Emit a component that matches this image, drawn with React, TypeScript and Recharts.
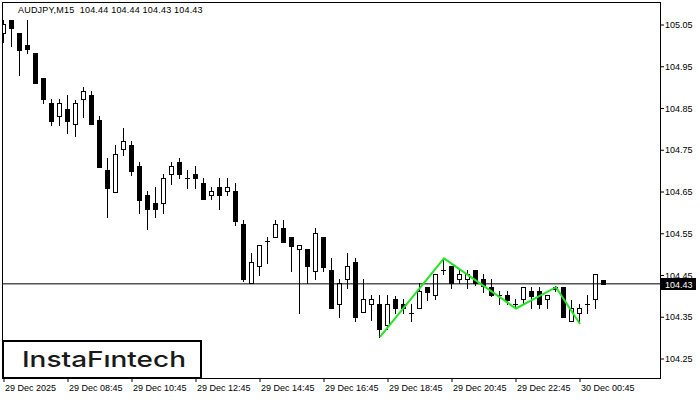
import React from 'react';
import { ComposedChart, Bar, Line, XAxis, YAxis, ReferenceLine, Label } from 'recharts';

const opens = [
  105.030, 105.062, 105.030, 105.002, 104.984, 104.922, 104.862, 104.832, 104.850, 104.813,
  104.872, 104.882, 104.822, 104.703, 104.651, 104.752, 104.763, 104.712, 104.643, 104.623,
  104.623, 104.692, 104.721, 104.683, 104.692, 104.671, 104.642, 104.661, 104.652, 104.652,
  104.573, 104.431, 104.472, 104.533, 104.542, 104.563, 104.542, 104.513, 104.513, 104.461,
  104.542, 104.463, 104.381, 104.441, 104.482, 104.362, 104.382, 104.382, 104.331, 104.393,
  104.382, 104.361, 104.372, 104.423, 104.403, 104.463, 104.473, 104.442, 104.442, 104.463,
  104.442, 104.422, 104.403, 104.403, 104.382, 104.393, 104.413, 104.413, 104.393, 104.422,
  104.422, 104.342, 104.361, 104.382, 104.393, 104.440,
];
const highs = [
  105.062, 105.062, 105.030, 105.062, 104.984, 104.922, 104.873, 104.873, 104.882, 104.870,
  104.902, 104.893, 104.832, 104.731, 104.763, 104.803, 104.772, 104.722, 104.652, 104.663,
  104.692, 104.722, 104.731, 104.703, 104.712, 104.683, 104.662, 104.683, 104.683, 104.671,
  104.583, 104.503, 104.522, 104.542, 104.583, 104.583, 104.542, 104.522, 104.513, 104.563,
  104.542, 104.491, 104.441, 104.503, 104.491, 104.441, 104.403, 104.403, 104.403, 104.401,
  104.393, 104.382, 104.431, 104.423, 104.453, 104.491, 104.473, 104.463, 104.463, 104.463,
  104.453, 104.442, 104.413, 104.413, 104.393, 104.422, 104.422, 104.422, 104.403, 104.424,
  104.422, 104.391, 104.382, 104.403, 104.453, 104.440,
];
const lows = [
  105.010, 105.000, 104.930, 104.983, 104.910, 104.863, 104.810, 104.810, 104.791, 104.783,
  104.830, 104.812, 104.711, 104.591, 104.651, 104.739, 104.691, 104.600, 104.562, 104.591,
  104.600, 104.670, 104.683, 104.660, 104.660, 104.633, 104.633, 104.610, 104.642, 104.572,
  104.438, 104.431, 104.451, 104.481, 104.542, 104.531, 104.461, 104.361, 104.431, 104.441,
  104.461, 104.371, 104.351, 104.421, 104.341, 104.362, 104.343, 104.303, 104.321, 104.361,
  104.361, 104.341, 104.372, 104.391, 104.393, 104.453, 104.421, 104.431, 104.421, 104.427,
  104.411, 104.401, 104.382, 104.382, 104.371, 104.382, 104.371, 104.371, 104.371, 104.413,
  104.351, 104.342, 104.342, 104.361, 104.371, 104.430,
];
const closes = [
  105.052, 105.042, 104.990, 104.992, 104.910, 104.872, 104.821, 104.862, 104.821, 104.862,
  104.892, 104.812, 104.711, 104.660, 104.741, 104.772, 104.701, 104.631, 104.610, 104.610,
  104.683, 104.712, 104.692, 104.683, 104.683, 104.633, 104.652, 104.642, 104.661, 104.581,
  104.441, 104.482, 104.522, 104.533, 104.573, 104.531, 104.521, 104.522, 104.472, 104.552,
  104.471, 104.371, 104.431, 104.472, 104.351, 104.393, 104.393, 104.321, 104.382, 104.372,
  104.372, 104.361, 104.413, 104.411, 104.453, 104.463, 104.433, 104.453, 104.453, 104.433,
  104.426, 104.403, 104.403, 104.391, 104.382, 104.422, 104.402, 104.382, 104.403, 104.418,
  104.351, 104.372, 104.372, 104.382, 104.453, 104.430,
];

const patternIdx = [47, 55, 64, 69, 72];
const patternVals = [104.303, 104.491, 104.371, 104.422, 104.334];

const xTickIdx = [0, 8, 16, 24, 32, 40, 48, 56, 64, 72];
const xTickLabels = [
  '29 Dec 2025', '29 Dec 08:45', '29 Dec 10:45', '29 Dec 12:45', '29 Dec 14:45',
  '29 Dec 16:45', '29 Dec 18:45', '29 Dec 20:45', '29 Dec 22:45', '30 Dec 00:45',
];
const yTicks = [104.25, 104.35, 104.45, 104.55, 104.65, 104.75, 104.85, 104.95, 105.05];
const lastPrice = 104.43;
const headerText = 'AUDJPY,M15  104.44 104.44 104.43 104.43';
const logoText = 'InstaFıntech';

const FONT = '"Liberation Sans", Arial, sans-serif';

const data = opens.map((o, i) => {
  const pi = patternIdx.indexOf(i);
  return {
    i,
    open: o,
    high: highs[i],
    low: lows[i],
    close: closes[i],
    range: [lows[i], highs[i]],
    pat: pi >= 0 ? patternVals[pi] : null,
  };
});

const Candle = (props: any) => {
  const { x, y, width, height, payload } = props;
  if (x == null || y == null || !payload) return null;
  const { open, close, high, low } = payload;
  const top = Math.min(y, y + height);
  const h = Math.abs(height);
  const ratio = high - low > 0 ? h / (high - low) : 0;
  const yOf = (v: number) => top + (high - v) * ratio;
  const cx = Math.floor(x + width / 2) + 0.5;
  const yH = Math.round(yOf(high));
  const yL = Math.round(yOf(low));
  const yO = Math.round(yOf(open));
  const yC = Math.round(yOf(close));
  const bTop = Math.min(yO, yC);
  const bBot = Math.max(yO, yC);
  const up = close > open;
  return (
    <g>
      <line x1={cx} x2={cx} y1={yH} y2={yL + 1} stroke="#000" strokeWidth={1} />
      {bBot - bTop < 1 ? (
        <line x1={cx - 2.5} x2={cx + 2.5} y1={bTop + 0.5} y2={bTop + 0.5} stroke="#000" strokeWidth={1} />
      ) : up ? (
        <rect x={cx - 2} y={bTop + 0.5} width={4} height={bBot - bTop} fill="#fff" stroke="#000" strokeWidth={1} />
      ) : (
        <rect x={cx - 2.5} y={bTop} width={5} height={bBot - bTop + 1} fill="#000" />
      )}
    </g>
  );
};

const XTick = (props: any) => {
  const { x, y, payload } = props;
  const idx = xTickIdx.indexOf(payload.value);
  return (
    <text x={x + 1} y={y + 7} fontSize={9} fontFamily={FONT} fill="#000" textAnchor="start">
      {idx >= 0 ? xTickLabels[idx] : ''}
    </text>
  );
};

const YTick = (props: any) => {
  const { x, y, payload } = props;
  return (
    <text x={x - 1} y={y + 3} fontSize={9} fontFamily={FONT} fill="#000" textAnchor="start">
      {Number(payload.value).toFixed(2)}
    </text>
  );
};

const PriceLabel = (props: any) => {
  const vb = props.viewBox || {};
  const bx = vb.x + vb.width + 1;
  const by = Math.round(vb.y) - 6;
  return (
    <g>
      <rect x={bx} y={by} width={35} height={12} fill="#000" />
      <text x={bx + 4} y={by + 9.5} fontSize={9} fontFamily={FONT} fill="#fff" textAnchor="start">
        {lastPrice.toFixed(2)}
      </text>
    </g>
  );
};

export default function App() {
  return (
    <div style={{ position: 'fixed', left: 0, top: 0, width: 700, height: 400, background: '#fff', overflow: 'hidden' }}>
      <ComposedChart
        width={700}
        height={400}
        data={data}
        margin={{ top: 3, right: 0, bottom: 0, left: 2 }}
      >
        <XAxis
          type="number"
          dataKey="i"
          domain={[-0.25, 82]}
          allowDataOverflow
          ticks={xTickIdx}
          tick={<XTick />}
          tickSize={4}
          tickLine={{ stroke: '#000' }}
          axisLine={false}
          height={22}
          interval={0}
        />
        <YAxis
          type="number"
          orientation="right"
          domain={[104.2045, 105.1027]}
          allowDataOverflow
          ticks={yTicks}
          tick={<YTick />}
          tickSize={4}
          tickLine={{ stroke: '#000' }}
          axisLine={false}
          width={40}
          interval={0}
        />
        <ReferenceLine y={lastPrice} stroke="#000" strokeWidth={1} label={<Label content={<PriceLabel />} />} />
        <Bar dataKey="range" barSize={5} shape={<Candle />} isAnimationActive={false} />
        <Line
          dataKey="pat"
          connectNulls
          stroke="#22e622"
          strokeWidth={2}
          dot={false}
          activeDot={false}
          isAnimationActive={false}
        />
      </ComposedChart>
      <svg width={700} height={400} style={{ position: 'absolute', left: 0, top: 0, pointerEvents: 'none' }}>
        <rect x={2.5} y={2.5} width={658} height={376} fill="none" stroke="#000" strokeWidth={1} />
        <text x={18} y={13} fontSize={9} fontFamily={FONT} fill="#000" letterSpacing={0.2} style={{ whiteSpace: 'pre' }}>
          {headerText}
        </text>
        <rect x={3} y={341} width={198} height={37} fill="#fff" stroke="#000" strokeWidth={2} />
        <text
          x={22}
          y={367}
          fontSize={22}
          fontFamily="Inter, 'Open Sans', sans-serif"
          fontWeight={500}
          fill="#1a1a1a"
          textLength={164}
          lengthAdjust="spacingAndGlyphs"
        >
          {logoText}
        </text>
      </svg>
    </div>
  );
}
